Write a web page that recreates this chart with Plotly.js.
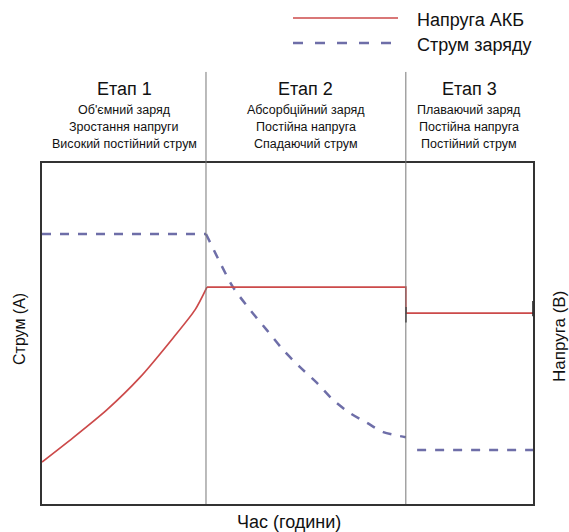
<!DOCTYPE html>
<html>
<head>
<meta charset="utf-8">
<script src="https://cdn.plot.ly/plotly-3.0.1.min.js"></script>
<style>html,body{margin:0;padding:0;background:#fff;}</style>
</head>
<body>
<div id="chart" style="width:569px;height:532px;"></div>
<script>
// Stage boundaries (time, % of total)
const stageBounds = [0, 33.4, 74.1, 100];
const stageTitles = ['Етап 1', 'Етап 2', 'Етап 3'];
const stageLines = [
  ['Об\'ємний заряд', 'Зростання напруги', 'Високий постійний струм'],
  ['Абсорбційний заряд', 'Постійна напруга', 'Спадаючий струм'],
  ['Плаваючий заряд', 'Постійна напруга', 'Постійний струм']
];

// Battery voltage (relative units): stage 1 rising curve, then constant levels
const voltageRiseTime = [0, 6.3, 13.2, 20.0, 26.7, 31.2, 33.6];
const voltageRise     = [12.3, 19.4, 27.6, 37.2, 48.7, 57.0, 63.6];
const voltageHoldTime = [33.6, 74.1, 74.1, 100];
const voltageHold     = [63.6, 63.6, 56.0, 56.0];

// Charging current (relative units)
const currentBulkTime = [0, 33.4];
const currentBulk     = [79.2, 79.2];
const currentFallTime = [33.4, 36.3, 38.9, 42.4, 45.8, 49.1, 52.5, 56.0, 59.3, 62.7, 66.2, 69.5, 74.1];
const currentFall     = [79.2, 70.7, 63.6, 56.9, 51.0, 45.2, 40.2, 35.5, 30.5, 26.7, 23.8, 21.1, 19.6];
const currentFloatTime = [76.4, 100];
const currentFloat     = [15.8, 15.8];

// small end ticks on float voltage
const tickTime  = [74.1, 100];
const tickLevel = [55.5, 57.3];

const legendNames = ['Напруга АКБ', 'Струм заряду'];
const axisTitles = {x: 'Час (години)', yLeft: 'Струм (А)', yRight: 'Напруга (В)'};

const FONT = 'Arial, "Liberation Sans", sans-serif';
const RED = '#cc4a4a';
const BLUE = '#6e6ea8';
const dashLine = {color: BLUE, width: 2.5, dash: '9px,9px'};

const traces = [
  {x: currentBulkTime, y: currentBulk, mode: 'lines', name: legendNames[1], line: dashLine, showlegend: false},
  {x: currentFallTime, y: currentFall, mode: 'lines', name: legendNames[1], line: Object.assign({shape: 'spline', smoothing: 0.8}, dashLine), showlegend: false},
  {x: currentFloatTime, y: currentFloat, mode: 'lines', name: legendNames[1], line: dashLine, showlegend: false},
  {x: voltageRiseTime, y: voltageRise, mode: 'lines', name: legendNames[0], yaxis: 'y2',
   line: {color: RED, width: 1.7, shape: 'spline', smoothing: 0.7}, showlegend: false},
  {x: voltageHoldTime, y: voltageHold, mode: 'lines', name: legendNames[0], yaxis: 'y2',
   line: {color: RED, width: 1.7}, showlegend: false},
  {x: tickTime, y: tickLevel, mode: 'markers', yaxis: 'y2', showlegend: false, cliponaxis: false,
   marker: {symbol: 'line-ns-open', size: 11, color: '#222', line: {width: 1.6, color: '#222'}}, hoverinfo: 'skip'}
];

const shapes = [];
const annotations = [];
// dividers
[stageBounds[1], stageBounds[2]].forEach(b => {
  shapes.push({type: 'line', xref: 'x', yref: 'paper', x0: b, x1: b, y0: 0, y1: 1.267,
    line: {color: '#777', width: 1}});
});
const py2paper = py => (504 - py) / 341;
const px2paper = px => (px - 42) / 491;
// stage texts
for (let i = 0; i < 3; i++) {
  const cx = (stageBounds[i] + stageBounds[i + 1]) / 2;
  annotations.push({xref: 'x', yref: 'paper', x: cx, y: py2paper(89), text: stageTitles[i], showarrow: false,
    font: {family: FONT, size: 18, color: '#111'}, xanchor: 'center', yanchor: 'middle'});
  stageLines[i].forEach((t, j) => {
    annotations.push({xref: 'x', yref: 'paper', x: cx, y: py2paper(110 + j * 17), text: t, showarrow: false,
      font: {family: FONT, size: 12.5, color: '#111'}, xanchor: 'center', yanchor: 'middle'});
  });
}
// axis titles
annotations.push({xref: 'paper', yref: 'paper', x: px2paper(289), y: py2paper(522), text: axisTitles.x, showarrow: false,
  font: {family: FONT, size: 18, color: '#111'}, xanchor: 'center', yanchor: 'middle'});
annotations.push({xref: 'paper', yref: 'paper', x: px2paper(19), y: py2paper(329), text: axisTitles.yLeft, showarrow: false,
  textangle: -90, font: {family: FONT, size: 16, color: '#111'}, xanchor: 'center', yanchor: 'middle'});
annotations.push({xref: 'paper', yref: 'paper', x: px2paper(559), y: py2paper(337), text: axisTitles.yRight, showarrow: false,
  textangle: -90, font: {family: FONT, size: 17, color: '#111'}, xanchor: 'center', yanchor: 'middle'});
// custom legend
const legY = [18, 43];
shapes.push({type: 'line', xref: 'paper', yref: 'paper', x0: px2paper(293), x1: px2paper(398),
  y0: py2paper(legY[0]), y1: py2paper(legY[0]), line: {color: RED, width: 1.7}});
shapes.push({type: 'line', xref: 'paper', yref: 'paper', x0: px2paper(293), x1: px2paper(398),
  y0: py2paper(legY[1]), y1: py2paper(legY[1]), line: {color: BLUE, width: 2.5, dash: '10px,12px'}});
legendNames.forEach((n, i) => {
  annotations.push({xref: 'paper', yref: 'paper', x: px2paper(415), y: py2paper(legY[i] + 2), text: n,
    showarrow: false, xanchor: 'left', yanchor: 'middle', font: {family: FONT, size: 18, color: '#111'}});
});

const axisCommon = {range: [0, 100], showgrid: false, zeroline: false, showticklabels: false, ticks: '',
  showline: true, linecolor: '#333', linewidth: 2, fixedrange: true};

const layout = {
  width: 569, height: 532,
  margin: {l: 42, r: 36, t: 163, b: 28, pad: 0},
  paper_bgcolor: '#fff', plot_bgcolor: '#fff',
  showlegend: false,
  xaxis: Object.assign({}, axisCommon, {mirror: true}),
  yaxis: Object.assign({}, axisCommon, {mirror: true}),
  yaxis2: Object.assign({}, axisCommon, {overlaying: 'y', side: 'right', showline: false}),
  shapes: shapes,
  annotations: annotations,
  font: {family: FONT}
};

Plotly.newPlot('chart', traces, layout, {displayModeBar: false, staticPlot: true});
</script>
</body>
</html>
